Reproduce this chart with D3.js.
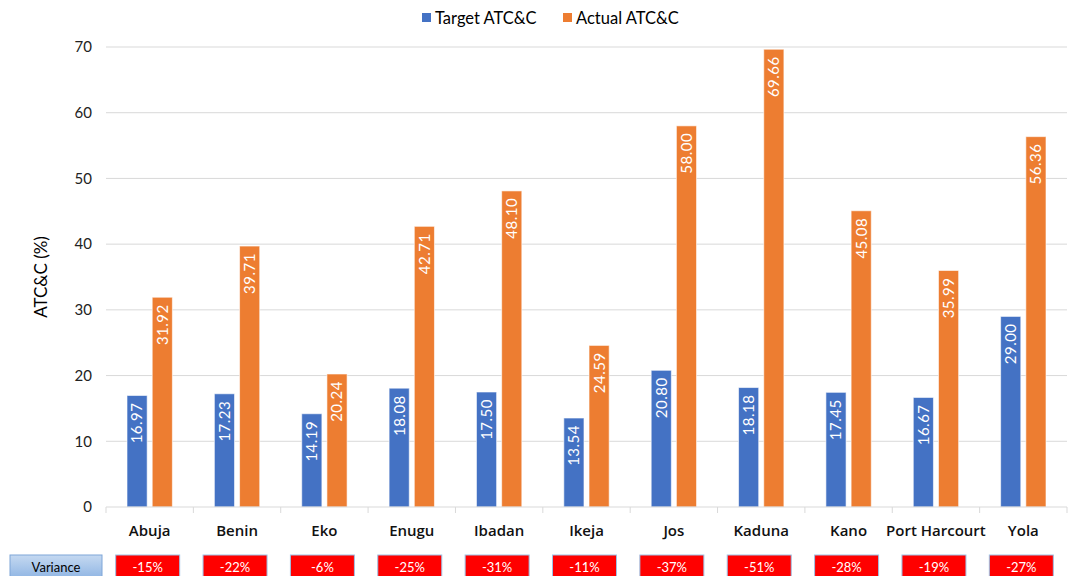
<!DOCTYPE html>
<html>
<head>
<meta charset="utf-8">
<script src="https://cdn.jsdelivr.net/npm/d3@7"></script>
<style>
  body { margin: 0; background: #fff; }
  svg text { font-family: Lato, "Open Sans", sans-serif; }
</style>
</head>
<body>
<svg id="chart" width="1070" height="576"></svg>
<script>
// chart data
const regions = ["Abuja", "Benin", "Eko", "Enugu", "Ibadan", "Ikeja", "Jos", "Kaduna", "Kano", "Port Harcourt", "Yola"];
const targetVals = [16.97, 17.23, 14.19, 18.08, 17.50, 13.54, 20.80, 18.18, 17.45, 16.67, 29.00];
const actualVals = [31.92, 39.71, 20.24, 42.71, 48.10, 24.59, 58.00, 69.66, 45.08, 35.99, 56.36];
const variance = ["-15%", "-22%", "-6%", "-25%", "-31%", "-11%", "-37%", "-51%", "-28%", "-19%", "-27%"];
const seriesNames = ["Target ATC&C", "Actual ATC&C"];
const yTicks = [0, 10, 20, 30, 40, 50, 60, 70];

const colors = { "Target ATC&C": "#4472c4", "Actual ATC&C": "#ed7d31" };

const margin = { left: 106, top: 47, right: 3, bottom: 69 },
    width = 1070, height = 576,
    xHigh = width - margin.right,
    yLow = height - margin.bottom;

const svg = d3.select("#chart");

const x = d3.scaleBand().domain(regions).range([margin.left, xHigh]).padding(0);
const x1 = d3.scaleBand().domain(seriesNames)
    .range([21, x.bandwidth() - 21]).paddingInner(0.2);
const y = d3.scaleLinear().domain([0, 70]).range([yLow, margin.top]);

// gridlines
svg.append("g")
    .selectAll("line")
    .data(yTicks.filter(d => d > 0))
    .join("line")
    .attr("x1", margin.left).attr("x2", xHigh)
    .attr("y1", d => y(d)).attr("y2", d => y(d))
    .attr("stroke", "#d9d9d9").attr("stroke-width", 1);

// y tick labels
svg.append("g")
    .selectAll("text")
    .data(yTicks)
    .join("text")
    .attr("x", 92).attr("y", d => y(d))
    .attr("dy", "0.35em")
    .attr("text-anchor", "end")
    .style("font-size", "15px")
    .attr("fill", "#222")
    .text(d => d);

// y title
svg.append("text")
    .attr("transform", `translate(47, ${(margin.top + yLow) / 2}) rotate(-90)`)
    .attr("text-anchor", "middle")
    .style("font-size", "17px")
    .text("ATC&C (%)");

// rows of values per category
const rows = regions.map((r, i) => ({
    region: r,
    vals: [
        { key: seriesNames[0], v: targetVals[i] },
        { key: seriesNames[1], v: actualVals[i] }
    ]
}));

const groups = svg.append("g")
    .selectAll("g")
    .data(rows)
    .join("g")
    .attr("transform", d => `translate(${x(d.region)},0)`);

groups.selectAll("rect")
    .data(d => d.vals)
    .join("rect")
    .attr("x", d => x1(d.key))
    .attr("width", x1.bandwidth())
    .attr("y", d => y(d.v))
    .attr("height", d => y(0) - y(d.v))
    .attr("fill", d => colors[d.key])
    .attr("stroke", "#ffffff")
    .attr("stroke-opacity", 0.6)
    .attr("stroke-width", 1);

groups.selectAll("text")
    .data(d => d.vals)
    .join("text")
    .attr("transform", d => `translate(${x1(d.key) + x1.bandwidth() / 2}, ${y(d.v) + 7}) rotate(-90)`)
    .attr("dy", "0.36em")
    .attr("text-anchor", "end")
    .attr("fill", "#fff")
    .style("font-size", "15px")
    .style("letter-spacing", "0.5px")
    .text(d => d.v.toFixed(2));

// x axis line + ticks between categories
svg.append("line")
    .attr("x1", margin.left).attr("x2", xHigh)
    .attr("y1", yLow).attr("y2", yLow)
    .attr("stroke", "#d9d9d9");

svg.append("g")
    .selectAll("line")
    .data(regions.concat(["end"]))
    .join("line")
    .attr("x1", (d, i) => margin.left + i * x.bandwidth())
    .attr("x2", (d, i) => margin.left + i * x.bandwidth())
    .attr("y1", yLow).attr("y2", yLow + 6)
    .attr("stroke", "#d9d9d9");

// category labels
svg.append("g")
    .selectAll("text")
    .data(regions)
    .join("text")
    .attr("x", d => x(d) + x.bandwidth() / 2)
    .attr("y", 531)
    .attr("dy", "0.35em")
    .attr("text-anchor", "middle")
    .style("font-family", "'Open Sans', sans-serif")
    .style("font-size", "15px")
    .style("font-weight", "600")
    .attr("fill", "#111")
    .text(d => d);

// legend
const legend = svg.append("g").attr("transform", "translate(422, 18)");
const legendX = [0, 141];
seriesNames.forEach((s, i) => {
    legend.append("rect")
        .attr("x", legendX[i]).attr("y", -5)
        .attr("width", 9).attr("height", 9)
        .attr("fill", colors[s]);
    legend.append("text")
        .attr("x", legendX[i] + 13).attr("y", 0)
        .attr("dy", "0.35em")
        .style("font-size", "16.5px")
        .text(s);
});

// variance row
const defs = svg.append("defs");
const grad = defs.append("linearGradient")
    .attr("id", "varGrad").attr("x1", 0).attr("x2", 0).attr("y1", 0).attr("y2", 1);
grad.append("stop").attr("offset", "0%").attr("stop-color", "#c5d9f1");
grad.append("stop").attr("offset", "100%").attr("stop-color", "#8eb4e3");

svg.append("rect")
    .attr("x", 10).attr("y", 555)
    .attr("width", 92).attr("height", 24)
    .attr("fill", "url(#varGrad)")
    .attr("stroke", "#7ea6d8");
svg.append("text")
    .attr("x", 56).attr("y", 567)
    .attr("dy", "0.35em")
    .attr("text-anchor", "middle")
    .style("font-size", "13px")
    .attr("fill", "#000")
    .text("Variance");

const varG = svg.append("g")
    .selectAll("g")
    .data(regions.map((r, i) => ({ region: r, v: variance[i] })))
    .join("g")
    .attr("transform", d => `translate(${x(d.region) + x.bandwidth() / 2 - 2}, 555)`);

varG.append("rect")
    .attr("x", -32).attr("y", 0)
    .attr("width", 64).attr("height", 24)
    .attr("fill", "#ff0000")
    .attr("stroke", "#9dc3e6");

varG.append("text")
    .attr("y", 12)
    .attr("dy", "0.35em")
    .attr("text-anchor", "middle")
    .attr("fill", "#fff")
    .style("font-size", "13px")
    .text(d => d.v);
</script>
</body>
</html>
